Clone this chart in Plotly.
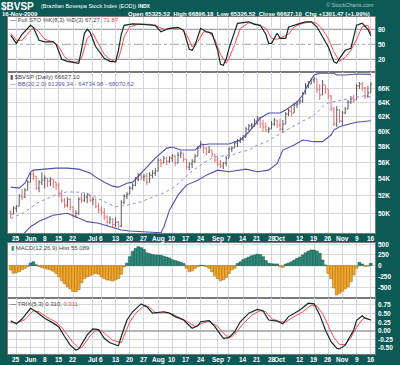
import math
import plotly.graph_objects as go
import pandas as pd

# ---------------- data ----------------
dates = [d.strftime('%Y-%m-%d') for d in pd.bdate_range('2009-05-21', '2009-11-16')]

tick_dates = ['2009-05-25', '2009-06-01', '2009-06-08', '2009-06-15', '2009-06-22', '2009-07-01',
              '2009-07-06', '2009-07-13', '2009-07-20', '2009-07-27', '2009-08-03', '2009-08-10',
              '2009-08-17', '2009-08-24', '2009-09-01', '2009-09-07', '2009-09-14', '2009-09-21',
              '2009-09-28', '2009-10-01', '2009-10-12', '2009-10-19', '2009-10-26', '2009-11-02',
              '2009-11-09', '2009-11-16']
tick_labels = ['25', 'Jun', '8', '15', '22', 'Jul', '6', '13', '20', '27', 'Aug', '10', '17', '24',
               'Sep', '7', '14', '21', '28', 'Oct', '12', '19', '26', 'Nov', '9', '16']

opens = [50200, 49900, 50570, 50800, 51940, 51820, 52640, 53580, 54540, 54300,
         52870, 53580, 53820, 54060, 53700, 53940, 53580, 53230, 52060, 51480,
         50910, 51590, 50680, 49680, 50010, 51590, 51480, 51820, 52060, 51480,
         51590, 50800, 50350, 50120, 49570, 49020, 49350, 48800, 49020, 48590,
         51250, 51940, 52170, 52870, 53230, 53940, 54420, 54180, 54300, 53580,
         54420, 54670, 54910, 56270, 55900, 56520, 56140, 56520, 56770, 55900,
         56900, 57150, 56390, 55400, 55770, 56140, 56770, 57790, 58310, 57790,
         57280, 57540, 57030, 56270, 55770, 55520, 55900, 56520, 57660, 57790,
         58440, 58700, 58960, 59220, 60290, 60690, 60830, 61370, 61780, 60960,
         60560, 60150, 60290, 60960, 61510, 60830, 60290, 60960, 62330, 62750,
         62470, 63590, 63730, 64160, 65170, 66340, 66630, 67230, 67380, 65750,
         65020, 66490, 65900, 64880, 63030, 60960, 62890, 61370, 62470, 63030,
         64020, 64450, 64300, 66340, 66630, 66040, 64880, 65325.52]
highs = [50350, 50800, 50910, 52170, 52750, 52870, 53820, 54790, 55030, 54300,
         53820, 54790, 54420, 54060, 54180, 53940, 53580, 53460, 52640, 51710,
         51820, 51710, 50800, 50350, 51820, 52290, 52170, 52290, 52060, 51820,
         51590, 51140, 50800, 50570, 49790, 49680, 49460, 49570, 49130, 51480,
         52170, 52400, 53110, 53460, 54180, 54670, 54790, 54540, 54670, 54790,
         55030, 55280, 56520, 56390, 56770, 56650, 56770, 57030, 56900, 57280,
         57410, 57150, 56390, 56020, 56390, 57030, 58050, 58700, 58310, 57920,
         58050, 57540, 57030, 56650, 56270, 56020, 56770, 57920, 58050, 58700,
         58960, 59220, 59490, 60560, 60960, 61100, 61640, 62060, 61920, 61510,
         61100, 60560, 61370, 61780, 61510, 61640, 61510, 62610, 63030, 63310,
         63880, 64160, 64450, 65460, 66780, 67080, 67530, 67680, 67380, 66630,
         67230, 66490, 65900, 65020, 63310, 63450, 63030, 62750, 63310, 64300,
         64880, 65020, 66630, 66930, 66930, 66190, 66340, 66896.18]
lows = [49460, 49880, 50120, 50800, 51480, 51710, 52640, 53580, 53820, 52640,
        52400, 53230, 52870, 52990, 53110, 52870, 52640, 51820, 51140, 50570,
        50680, 50350, 49460, 49460, 49790, 51140, 51250, 51140, 51250, 50910,
        50570, 50010, 49790, 49240, 48700, 48800, 48480, 48480, 48370, 48480,
        51020, 51590, 52170, 52640, 53110, 53700, 53820, 53700, 53230, 53580,
        54060, 54300, 54910, 55400, 55900, 55650, 55900, 56020, 55520, 55900,
        56520, 56020, 55030, 55030, 55280, 55900, 56770, 57790, 57150, 56900,
        57150, 56650, 56020, 55520, 55280, 55150, 55520, 56520, 57280, 57790,
        57920, 58440, 58700, 59220, 60020, 60290, 60560, 60830, 60420, 59890,
        59890, 59750, 60290, 60690, 60420, 60020, 59750, 60960, 62060, 62060,
        62470, 63170, 63730, 63880, 65170, 66040, 66630, 66780, 65310, 64300,
        65020, 65170, 64450, 62750, 60690, 60560, 61100, 60830, 62330, 63030,
        63730, 63880, 64300, 65900, 65610, 64450, 64590, 65325.52]
closes = [49900, 50570, 50800, 51940, 51820, 52640, 53580, 54540, 54300, 52870,
          53580, 53820, 54060, 53700, 53940, 53580, 53230, 52060, 51480, 50910,
          51590, 50680, 49680, 50010, 51590, 51480, 51820, 52060, 51480, 51590,
          50800, 50350, 50120, 49570, 49020, 49350, 48800, 49020, 48590, 51250,
          51940, 52170, 52870, 53230, 53940, 54420, 54180, 54300, 53580, 54420,
          54670, 54910, 56270, 55900, 56520, 56140, 56520, 56770, 55900, 56900,
          57150, 56390, 55400, 55770, 56140, 56770, 57790, 58310, 57790, 57280,
          57540, 57030, 56270, 55770, 55520, 55900, 56520, 57660, 57790, 58440,
          58700, 58960, 59220, 60290, 60690, 60830, 61370, 61780, 60960, 60560,
          60150, 60290, 60960, 61510, 60830, 60290, 60960, 62330, 62750, 62470,
          63590, 63730, 64160, 65170, 66340, 66630, 67230, 67380, 65750, 65020,
          66490, 65900, 64880, 63030, 60960, 62890, 61370, 62470, 63030, 64020,
          64450, 64300, 66340, 66630, 66040, 64880, 65325.63, 66627.10]

bb_up_idx = [0, 3, 5, 7, 8, 12, 16, 20, 24, 28, 30, 33, 36, 38, 41, 43, 47, 51, 55, 57, 60, 65, 67,
             70, 77, 81, 84, 88, 91, 95, 97, 101, 103, 105, 107, 109, 114, 115, 118, 122, 127]
bb_up = [52990, 52870, 53460, 54790, 55030, 55150, 55280, 55280, 55150, 54670, 54180, 53580, 53110,
         52990, 53460, 53580, 55030, 56520, 57790, 57920, 57540, 57540, 58180, 58310, 58310, 58830,
         59890, 61780, 62470, 62470, 62890, 64020, 65020, 66630, 67980, 68240, 68240, 67980, 67980,
         68130, 68070.62]
bb_mid_idx = [0, 5, 9, 13, 17, 20, 24, 27, 31, 34, 37, 41, 44, 46, 50, 54, 57, 60, 63, 66, 69, 72,
              75, 78, 81, 84, 87, 90, 93, 96, 100, 103, 106, 108, 110, 112, 114, 117, 120, 122, 125, 127]
bb_mid = [49430, 50120, 51100, 51710, 52250, 52440, 52400, 52250, 51670, 51140, 50720, 50910, 51140,
          51290, 51820, 52290, 52870, 53620, 54670, 55440, 56140, 56690, 56840, 56900, 57280, 57540,
          58180, 58570, 59220, 59890, 60690, 61370, 61920, 62470, 63370, 63880, 64070, 64300, 64520,
          64780, 64920, 64734.98]
bb_lo_idx = [0, 2, 4, 7, 10, 15, 20, 23, 27, 31, 35, 39, 42, 46, 53, 54, 56, 59, 62, 66, 69, 73, 77,
             83, 87, 91, 94, 96, 100, 103, 107, 110, 113, 114, 116, 118, 122, 127]
bb_lo = [45870, 46600, 47600, 48530, 49130, 49790, 50000, 49620, 49080, 48900, 48530, 48180, 48070,
         48000, 47890, 48480, 50350, 52060, 53230, 53820, 54420, 55030, 54840, 55150, 54840, 55030,
         55850, 57540, 58180, 58830, 58620, 58620, 59490, 60150, 60600, 60830, 61200, 61399.34]

sto_k_idx = [0, 2, 4, 6, 7, 8, 10, 12, 15, 16, 18, 20, 22, 24, 25, 26, 27, 28, 30, 32, 33, 35, 37,
             38, 39, 40, 43, 47, 51, 53, 56, 59, 61, 63, 64, 65, 67, 69, 71, 73, 74, 75, 76, 77, 78,
             80, 84, 86, 88, 89, 90, 91, 92, 94, 95, 97, 98, 101, 104, 106, 108, 110, 112, 113, 114,
             115, 116, 118, 120, 122, 124, 126, 127]
sto_k = [68, 52, 70, 82, 88, 84, 58, 55, 55, 50, 20, 16, 14, 12, 40, 72, 80, 74, 45, 30, 22, 16, 15,
         38, 70, 88, 91, 90, 88, 75, 82, 84, 78, 40, 38, 48, 82, 75, 72, 38, 10, 8, 20, 42, 58,
         92, 95, 90, 88, 80, 70, 52, 52, 72, 62, 62, 84, 90, 95, 95, 85, 65, 45, 30, 15,
         12, 22, 38, 42, 88, 92, 80, 67.27]
sto_d_idx = [0, 2, 4, 6, 8, 10, 12, 15, 17, 19, 21, 23, 25, 27, 29, 31, 33, 35, 37, 38, 39, 40, 42,
             45, 49, 52, 54, 57, 60, 62, 64, 66, 68, 70, 72, 74, 76, 77, 79, 81, 84, 87, 90, 92, 94,
             96, 98, 100, 103, 106, 108, 110, 112, 114, 116, 118, 120, 122, 124, 126, 127]
sto_d = [72, 58, 58, 70, 84, 75, 60, 55, 45, 25, 16, 14, 22, 62, 72, 50, 30, 20, 15, 22, 40, 65, 85,
         90, 90, 85, 80, 82, 82, 70, 45, 55, 75, 75, 60, 30, 12, 22, 50, 82, 93, 90, 82, 62, 60,
         65, 70, 85, 92, 95, 92, 80, 62, 35, 16, 24, 38, 60, 85, 88, 71.87]

macd_hist = [-100, -178, -160, -140, -90, -60, -20, 60, 90, 20,
             -20, -40, -60, -80, -100, -130, -180, -260, -350, -420,
             -490, -540, -600, -607, -560, -400, -300, -257, -230, -200,
             -180, -200, -257, -300, -335, -340, -358, -330, -300, -200,
             -30, 60, 210, 330, 400, 444, 420, 380, 300, 280,
             260, 250, 250, 240, 220, 200, 180, 140, 120, 100,
             80, 50, -60, -140, -120, -60, -20, 10, 5, -20,
             -60, -140, -230, -300, -350, -330, -280, -180, -100, -60,
             50, 90, 140, 171, 200, 230, 250, 270, 260, 210,
             120, 55, 45, 40, 40, -20, -40, 40, 60, 90,
             130, 171, 200, 250, 300, 340, 366, 366, 340, 290,
             132, 15, -180, -300, -520, -685, -646, -600, -540, -490,
             -374, -218, -60, 80, 40, -15, -10, 55.089]

trix_idx = [0, 2, 4, 7, 9, 12, 15, 17, 19, 21, 23, 24, 27, 29, 31, 33, 35, 38, 39, 41, 43, 46, 48,
            50, 54, 56, 58, 61, 64, 66, 67, 70, 72, 75, 77, 79, 81, 84, 87, 89, 91, 94, 96, 98, 102,
            105, 107, 109, 111, 113, 115, 116, 118, 121, 122, 124, 125, 127]
trix = [0.29, 0.20, 0.34, 0.65, 0.55, 0.36, 0.22, 0.11, -0.17, -0.42, -0.56, -0.53, -0.12, 0.05,
        0.03, -0.22, -0.35, -0.44, -0.17, 0.31, 0.55, 0.78, 0.70, 0.51, 0.55, 0.51, 0.41, 0.31,
        0.07, 0.14, 0.26, 0.29, 0.12, -0.22, -0.20, -0.03, 0.26, 0.51, 0.62, 0.58, 0.31, 0.28,
        0.20, 0.41, 0.60, 0.80, 0.78, 0.46, 0.02, -0.32, -0.51, -0.53, -0.42, 0.02, 0.30, 0.43,
        0.36, 0.310]
trix_sig_idx = [0, 2, 5, 8, 10, 13, 16, 18, 20, 22, 24, 25, 28, 30, 32, 34, 36, 39, 40, 42, 44, 47,
                49, 51, 55, 57, 59, 62, 65, 67, 70, 73, 76, 78, 80, 82, 85, 88, 90, 92, 95, 97, 99,
                103, 106, 108, 110, 112, 114, 116, 118, 120, 122, 124, 125, 127]
trix_sig = [0.24, 0.22, 0.32, 0.58, 0.55, 0.38, 0.25, 0.10, -0.12, -0.35, -0.50, -0.50, -0.15, 0.02,
            0.0, -0.15, -0.28, -0.35, -0.15, 0.25, 0.50, 0.72, 0.68, 0.52, 0.52, 0.48, 0.40, 0.28,
            0.12, 0.20, 0.28, 0.12, -0.15, -0.18, 0.0, 0.20, 0.45, 0.58, 0.55, 0.35, 0.26, 0.25,
            0.36, 0.55, 0.74, 0.72, 0.50, 0.15, -0.20, -0.40, -0.40, -0.20, 0.10, 0.32, 0.38, 0.311]

sto_ticks = [20, 50, 80]
sto_tick_text = ['20', '50', '80']
price_ticks = [50000, 52000, 54000, 56000, 58000, 60000, 62000, 64000, 66000]
price_tick_text = ['50K', '52K', '54K', '56K', '58K', '60K', '62K', '64K', '66K']
macd_ticks = [-500, -250, 0, 250, 500]
macd_tick_text = ['-500', '-250', '0', '250', '500']
trix_ticks = [-0.5, -0.25, 0, 0.25, 0.5, 0.75]
trix_tick_text = ['-0.50', '-0.25', '0.00', '0.25', '0.50', '0.75']

# ---------------- figure ----------------
W, H = 400, 365
ML, MR, MT, MB = 8, 25, 17, 11
PW, PH = W - ML - MR, H - MT - MB


def pxx(x):
    return (x - ML) / PW


def pxy(y):
    return (H - MB - y) / PH


TEAL = '#0c5a56'
FONT = 'Liberation Sans, Arial, sans-serif'

fig = go.Figure()

# Stochastics
fig.add_trace(go.Scatter(x=[dates[i] for i in sto_d_idx], y=sto_d, mode='lines',
                         line=dict(color='#ff4a4a', width=1), xaxis='x', yaxis='y'))
fig.add_trace(go.Scatter(x=[dates[i] for i in sto_k_idx], y=sto_k, mode='lines',
                         line=dict(color='#0d2a28', width=1.2), xaxis='x', yaxis='y'))

# Price + Bollinger
fig.add_trace(go.Scatter(x=[dates[i] for i in bb_mid_idx], y=bb_mid, mode='lines',
                         line=dict(color='#9090d4', width=1, dash='dot'), xaxis='x2', yaxis='y2'))
fig.add_trace(go.Scatter(x=[dates[i] for i in bb_up_idx], y=bb_up, mode='lines',
                         line=dict(color='#5050b0', width=1.1), xaxis='x2', yaxis='y2'))
fig.add_trace(go.Scatter(x=[dates[i] for i in bb_lo_idx], y=bb_lo, mode='lines',
                         line=dict(color='#5050b0', width=1.1), xaxis='x2', yaxis='y2'))
fig.add_trace(go.Ohlc(x=dates, open=opens, high=highs, low=lows, close=closes,
                      increasing=dict(line=dict(color='#5a5a5a', width=1)),
                      decreasing=dict(line=dict(color='#e86a6a', width=1)),
                      tickwidth=0.4, xaxis='x2', yaxis='y2'))

# MACD histogram
fig.add_trace(go.Bar(x=dates, y=macd_hist,
                     marker=dict(color=['#2f8a7a' if v >= 0 else '#f5a628' for v in macd_hist],
                                 line=dict(color=['#1d5c52' if v >= 0 else '#a8741e' for v in macd_hist],
                                           width=0.6)),
                     xaxis='x3', yaxis='y3'))

# TRIX
fig.add_trace(go.Scatter(x=[dates[i] for i in trix_sig_idx], y=trix_sig, mode='lines',
                         line=dict(color='#ff4a4a', width=1), xaxis='x4', yaxis='y4'))
fig.add_trace(go.Scatter(x=[dates[i] for i in trix_idx], y=trix, mode='lines',
                         line=dict(color='#0d2a28', width=1.2), xaxis='x4', yaxis='y4'))

xcommon = dict(type='category', categoryorder='array', categoryarray=dates, range=[-0.95, 128.5],
               tickmode='array', tickvals=tick_dates, showticklabels=False, showgrid=True,
               gridcolor='#d4d4e2', gridwidth=1, showline=True, mirror=True, linecolor='#7a7a7a',
               ticks='', zeroline=False, fixedrange=True, automargin=False)
ycommon = dict(side='right', showline=True, mirror=True, linecolor='#7a7a7a', ticks='',
               showticklabels=False, gridcolor='#d8d8d8', zeroline=False, fixedrange=True,
               automargin=False)

d_sto = [pxy(72), 1.0]
d_price = [pxy(233), pxy(72)]
d_macd = [pxy(298), pxy(243)]
d_trix = [0.0, pxy(298)]

fig.update_layout(
    width=W, height=H, margin=dict(l=ML, r=MR, t=MT, b=MB, autoexpand=False),
    paper_bgcolor=TEAL, plot_bgcolor='white', showlegend=False, bargap=0,
    font=dict(family=FONT),
    xaxis=dict(xcommon, anchor='y'),
    xaxis2=dict(xcommon, anchor='y2', matches='x', rangeslider=dict(visible=False)),
    xaxis3=dict(xcommon, anchor='y3', matches='x'),
    xaxis4=dict(xcommon, anchor='y4', matches='x'),
    yaxis=dict(ycommon, domain=d_sto, anchor='x', range=[-5.4, 104.6], tickvals=sto_ticks,
               showgrid=False),
    yaxis2=dict(ycommon, domain=d_price, anchor='x2', type='log', range=[4.67997, 4.83524],
                tickvals=price_ticks),
    yaxis3=dict(ycommon, domain=d_macd, anchor='x3', range=[-755, 530], tickvals=macd_ticks),
    yaxis4=dict(ycommon, domain=d_trix, anchor='x4', range=[-0.677, 0.95], tickvals=trix_ticks,
                zeroline=True, zerolinecolor='#b4b4b4', zerolinewidth=2),
)

shapes = []
for lvl, dash, col in [(80, 'solid', '#8c8c8c'), (20, 'solid', '#8c8c8c'), (50, 'dashdot', '#a0a0a0')]:
    shapes.append(dict(type='line', xref='x domain', yref='y', x0=0, x1=1, y0=lvl, y1=lvl,
                       line=dict(color=col, width=1, dash=dash), layer='below'))
fig.update_layout(shapes=shapes)

ann = []
TICKFONT = dict(family=FONT, size=6.5, color='white', weight='bold')

# right-hand axis labels (placed on the library's own axis scales)
for yref, vals, texts, is_log in [('y', sto_ticks, sto_tick_text, False),
                                  ('y2', price_ticks, price_tick_text, True),
                                  ('y3', macd_ticks, macd_tick_text, False),
                                  ('y4', trix_ticks, trix_tick_text, False)]:
    xr = 'x domain' if yref == 'y' else 'x' + yref[1:] + ' domain'
    for v, t in zip(vals, texts):
        ann.append(dict(x=1, xref=xr, y=math.log10(v) if is_log else v, yref=yref, text=t,
                        showarrow=False, xanchor='left', yanchor='middle', xshift=2, borderpad=0,
                        font=TICKFONT))

# date labels under price panel and TRIX panel
for xr, yr in [('x2', 'y2 domain'), ('x4', 'y4 domain')]:
    for d, t in zip(tick_dates, tick_labels):
        ann.append(dict(x=d, xref=xr, y=0, yref=yr, text=t, showarrow=False, xanchor='center',
                        yanchor='top', yshift=-1, borderpad=0, font=TICKFONT))


def add_text(x, y, text, size, color='white', xanchor='left', bold=False):
    ann.append(dict(x=pxx(x), y=pxy(y), xref='paper', yref='paper', text=text, showarrow=False,
                    xanchor=xanchor, yanchor='middle', borderpad=0,
                    font=dict(family=FONT, size=size, color=color, weight='bold' if bold else 'normal')))


add_text(0, 6, '$BVSP', 10, bold=True)
add_text(40, 6, '(Brazilian Bovespa Stock Index (EOD))', 5.5)
add_text(137, 6, 'INDX', 5, bold=True)
add_text(375, 5, '© StockCharts.com', 5.5, color='#a9c9c5', xanchor='right')
add_text(1, 14, '16-Nov-2009', 6, bold=True)
add_text(371, 14, 'Open 65325.52  High 66896.18  Low 65326.52  Close 66627.10  Chg +1301.47 (+1.99%)',
         6, xanchor='right', bold=True)

add_text(9, 20.5, "<span style='color:#0d2a28'>—</span> Full STO %K(8,3) %D(3) 67.27, "
                  "<span style='color:#ff3a3a'>71.87</span>", 6, color='#444444')
add_text(9, 77, "<span style='color:#555555'>▮</span> $BVSP (Daily) 66627.10", 6, color='#444444')
add_text(9, 84, "<span style='color:#3a3aa0'>—</span> BB(20,2.0) 61399.34 - 64734.98 - 68070.62", 6,
         color='#5a5aa8')
add_text(10, 247.5, "<span style='color:#2f8a7a'>▮</span> MACD(12,26,9) Hist 55.089", 6, color='#444444')
add_text(9, 303.5, "<span style='color:#0d2a28'>—</span> TRIX(5,3) 0.310, "
                   "<span style='color:#ff3a3a'>0.311</span>", 6, color='#444444')

fig.update_layout(annotations=ann)

fig.write_html('out.html', config={'displayModeBar': False, 'staticPlot': True},
               post_script="document.body.style.margin='0px';document.body.style.padding='0px';"
                           "document.body.style.overflow='hidden';")
